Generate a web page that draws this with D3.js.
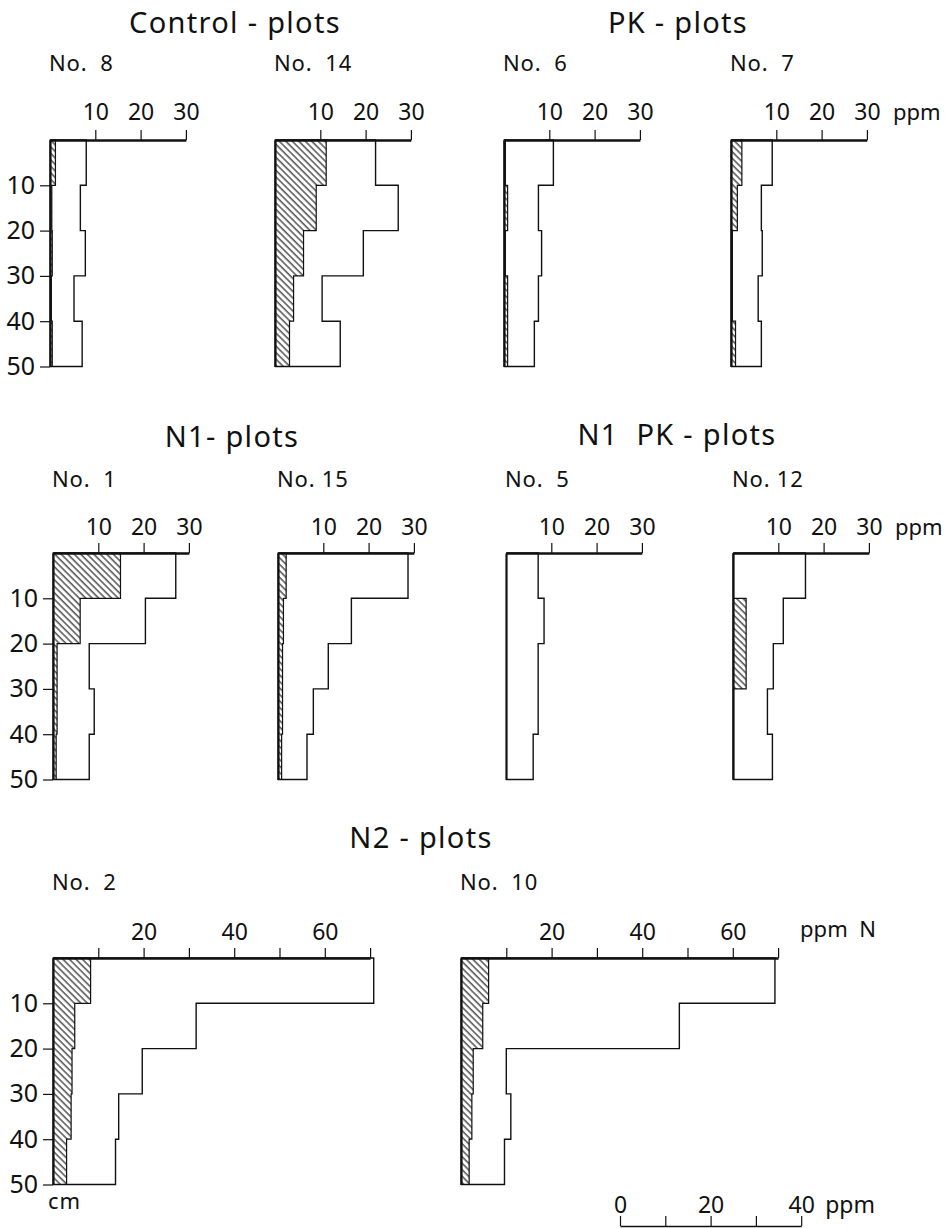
<!DOCTYPE html>
<html>
<head>
<meta charset="utf-8">
<script src="https://cdn.jsdelivr.net/npm/d3@7"></script>
<style>
  body { margin: 0; background: #fff; }
  text { font-family: "Noto Sans", sans-serif; fill: #111; white-space: pre; }
</style>
</head>
<body>
<div id="chart"></div>
<script>
// depth layers in cm (0-10, 10-20 ... 40-50)
var depths = [0, 10, 20, 30, 40, 50];

// total mineral N per layer (outline) and hatched part, ppm
var no8Total = [8.0, 6.7, 7.8, 5.3, 7.1];
var no8Hatch = [1.2, 0.4, 0.5, 0.3, 0.5];
var no14Total = [22.2, 27.2, 19.5, 10.4, 14.4];
var no14Hatch = [11.3, 9.1, 6.3, 4.1, 3.2];
var no6Total = [10.9, 7.6, 8.3, 7.6, 6.7];
var no6Hatch = [0.3, 0.8, 0.3, 0.8, 0.8];
var no7Total = [9.1, 6.7, 6.9, 6.0, 6.7];
var no7Hatch = [2.4, 1.4, 0.3, 0.3, 1.0];
var no1Total = [27.1, 20.4, 8.0, 9.1, 8.0];
var no1Hatch = [14.9, 6.0, 0.9, 0.9, 0.7];
var no15Total = [28.7, 16.2, 11.1, 7.8, 6.4];
var no15Hatch = [1.8, 1.2, 1.0, 1.0, 0.8];
var no5Total = [7.1, 8.4, 7.1, 7.1, 6.0];
var no5Hatch = [0, 0, 0, 0, 0];
var no12Total = [16.0, 11.1, 8.9, 7.6, 8.7];
var no12Hatch = [0, 2.9, 2.9, 0, 0];
var no2Total = [70.8, 31.6, 19.7, 14.5, 13.8];
var no2Hatch = [8.3, 4.8, 4.2, 4.0, 3.0];
var no10Total = [69.3, 48.2, 10.0, 11.0, 9.6];
var no10Hatch = [6.1, 4.8, 2.7, 2.4, 1.8];

// tick values
var smallTicks = [10, 20, 30];
var bigTicks = [10, 20, 30, 40, 50, 60, 70];
var bigLabels = [20, 40, 60];
var depthTicks = [10, 20, 30, 40, 50];
var barTicks = [0, 10, 20, 30, 40];
var barLabels = [0, 20, 40];

(function () {

    var svg = d3.select("#chart").append("svg")
        .attr("width", 948)
        .attr("height", 1228);

    // diagonal hatching
    var pat = svg.append("defs").append("pattern")
        .attr("id", "hatch")
        .attr("patternUnits", "userSpaceOnUse")
        .attr("width", 4.6)
        .attr("height", 4.6)
        .attr("patternTransform", "rotate(-45)");
    pat.append("line")
        .attr("x1", 1).attr("y1", 0).attr("x2", 1).attr("y2", 4.6)
        .attr("stroke", "#111").attr("stroke-width", 1.1);

    // layout of every little profile
    var panels = [
        {name: "No.  8", total: no8Total, hatch: no8Hatch, ox: 50, top: 140, max: 30, left: true},
        {name: "No.  14", total: no14Total, hatch: no14Hatch, ox: 275, top: 140, max: 30},
        {name: "No.  6", total: no6Total, hatch: no6Hatch, ox: 504, top: 140, max: 30},
        {name: "No.  7", total: no7Total, hatch: no7Hatch, ox: 731, top: 140, max: 30, ppm: true},
        {name: "No.  1", total: no1Total, hatch: no1Hatch, ox: 53, top: 553, max: 30, left: true},
        {name: "No. 15", total: no15Total, hatch: no15Hatch, ox: 278, top: 553, max: 30},
        {name: "No.  5", total: no5Total, hatch: no5Hatch, ox: 506, top: 553, max: 30},
        {name: "No. 12", total: no12Total, hatch: no12Hatch, ox: 733, top: 553, max: 30, ppm: true},
        {name: "No.  2", total: no2Total, hatch: no2Hatch, ox: 53, top: 958, max: 70, left: true},
        {name: "No.  10", total: no10Total, hatch: no10Hatch, ox: 461, top: 958, max: 70}
    ];

    var titles = [
        {text: "Control - plots", x: 235, y: 33},
        {text: "PK - plots", x: 678, y: 33},
        {text: "N1- plots", x: 232, y: 447},
        {text: "N1  PK - plots", x: 677, y: 445},
        {text: "N2 - plots", x: 421, y: 848}
    ];

    svg.selectAll(".title")
        .data(titles)
        .enter().append("text")
        .attr("class", "title")
        .attr("x", function (d) { return d.x; })
        .attr("y", function (d) { return d.y; })
        .attr("text-anchor", "middle")
        .style("font-size", "29px")
        .style("letter-spacing", "1.3px")
        .text(function (d) { return d.text; });

    var pxPerUnit = 4.53;

    panels.forEach(function (p) {
        var x = d3.scaleLinear().domain([0, p.max]).range([p.ox, p.ox + p.max * pxPerUnit]);
        var y = d3.scaleLinear().domain([0, 50]).range([p.top, p.top + 50 * pxPerUnit]);
        var g = svg.append("g");

        // plot number above
        g.append("text")
            .attr("x", p.ox - 1)
            .attr("y", p.top - (p.top == 140 ? 69 : (p.top == 553 ? 66 : 68)))
            .style("font-size", "22px")
            .style("letter-spacing", "0.8px")
            .text(p.name);

        // step line points for a profile
        function steps(vals) {
            var pts = [[0, 0]];
            vals.forEach(function (v, i) {
                pts.push([v, depths[i]]);
                pts.push([v, depths[i + 1]]);
            });
            pts.push([0, 50]);
            return pts;
        }

        var line = d3.line()
            .x(function (d) { return x(d[0]); })
            .y(function (d) { return y(d[1]); });

        g.append("path")
            .attr("d", line(steps(p.total)))
            .attr("fill", "none")
            .attr("stroke", "#111")
            .attr("stroke-width", 1.4);

        if (d3.max(p.hatch) > 0) {
            g.append("path")
                .attr("d", line(steps(p.hatch)) + "Z")
                .attr("fill", "url(#hatch)")
                .attr("stroke", "#111")
                .attr("stroke-width", 1.2);
        }

        // top ppm axis
        var labelled = p.max == 70 ? bigLabels : smallTicks;
        var top = d3.axisTop(x)
            .tickValues(p.max == 70 ? bigTicks : smallTicks)
            .tickSize(10)
            .tickSizeOuter(0)
            .tickPadding(p.top == 140 ? 10 : 8)
            .tickFormat(function (d) { return labelled.indexOf(d) >= 0 ? d : ""; });
        var ax = g.append("g")
            .attr("transform", "translate(0," + p.top + ")")
            .call(top);
        ax.select(".domain").attr("stroke", "#111").attr("stroke-width", 2.6);
        ax.selectAll(".tick line").attr("stroke", "#111").attr("stroke-width", 1.2);
        ax.selectAll("text").style("font-size", "23px").attr("fill", "#111")
            .style("font-family", "'Noto Sans', sans-serif");

        // depth axis on the first column
        var left = d3.axisLeft(y)
            .tickValues(p.left ? depthTicks : [])
            .tickSize(10)
            .tickSizeOuter(0)
            .tickPadding(5);
        var ay = g.append("g")
            .attr("transform", "translate(" + p.ox + ",0)")
            .call(left);
        ay.select(".domain").attr("stroke", "#111").attr("stroke-width", 2.2);
        ay.selectAll(".tick line").attr("stroke", "#111").attr("stroke-width", 1.2);
        ay.selectAll("text").style("font-size", "25px").attr("fill", "#111")
            .style("font-family", "'Noto Sans', sans-serif");

        if (p.ppm) {
            g.append("text")
                .attr("x", x(30) + 26)
                .attr("y", p.top - (p.top == 140 ? 20 : 18))
                .style("font-size", "22px")
                .text("ppm");
        }
        if (p.max == 70 && !p.left) {
            g.append("text")
                .attr("x", x(70) + 22)
                .attr("y", p.top - 21)
                .style("font-size", "22px")
                .text("ppm  N");
        }
        if (p.max == 70 && p.left) {
            g.append("text")
                .attr("x", p.ox - 5)
                .attr("y", y(50) + 24)
                .style("font-size", "22px")
                .style("letter-spacing", "1px")
                .text("cm");
        }
    });

    // scale bar at the bottom
    var xb = d3.scaleLinear().domain([0, 40]).range([620, 620 + 40 * pxPerUnit]);
    var bar = svg.append("g")
        .attr("transform", "translate(0,1226)")
        .call(d3.axisTop(xb)
            .tickValues(barTicks)
            .tickSize(10)
            .tickSizeOuter(0)
            .tickPadding(3)
            .tickFormat(function (d) { return barLabels.indexOf(d) >= 0 ? d : ""; }));
    bar.select(".domain").attr("stroke", "#111").attr("stroke-width", 1.6);
    bar.selectAll(".tick line").attr("stroke", "#111").attr("stroke-width", 1.2);
    bar.selectAll("text").style("font-size", "23px").attr("fill", "#111")
        .style("font-family", "'Noto Sans', sans-serif");
    svg.append("text")
        .attr("x", xb(40) + 24)
        .attr("y", 1213)
        .style("font-size", "23px")
        .text("ppm");

})();
</script>
</body>
</html>
